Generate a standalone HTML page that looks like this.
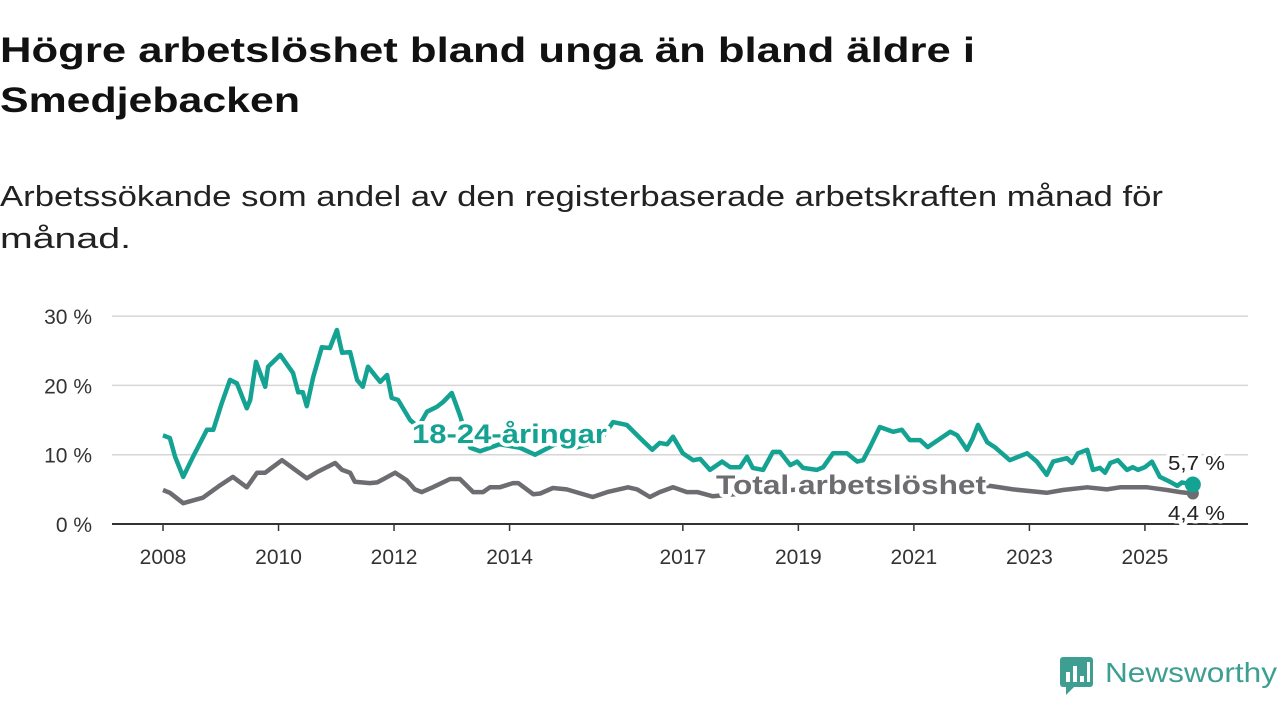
<!DOCTYPE html>
<html><head><meta charset="utf-8"><style>
html,body{margin:0;padding:0;background:#fff;width:1280px;height:720px;overflow:hidden}
svg text{font-family:"Liberation Sans",sans-serif}
</style></head><body>
<svg id="chart" width="1280" height="720" xmlns="http://www.w3.org/2000/svg">
<text x="0" y="62" font-size="35" font-weight="bold" fill="#111" textLength="975" lengthAdjust="spacingAndGlyphs">Högre arbetslöshet bland unga än bland äldre i</text>
<text x="0" y="112" font-size="35" font-weight="bold" fill="#111" textLength="300" lengthAdjust="spacingAndGlyphs">Smedjebacken</text>
<text x="0" y="206" font-size="29" fill="#222" textLength="1163" lengthAdjust="spacingAndGlyphs">Arbetssökande som andel av den registerbaserade arbetskraften månad för</text>
<text x="0" y="248" font-size="29" fill="#222" textLength="131" lengthAdjust="spacingAndGlyphs">månad.</text>
<g id="grid"></g><g id="axes"></g><g id="lines"></g><g id="labels"></g>
<g>
<rect x="1060" y="657" width="33" height="30" rx="3" fill="#3e9e92"/>
<polygon points="1066,687 1074,687 1066,695" fill="#3e9e92"/>
<rect x="1066" y="672" width="4" height="10" fill="#fff"/><rect x="1073" y="666" width="4" height="16" fill="#fff"/><rect x="1080" y="676" width="4" height="6" fill="#fff"/><rect x="1087" y="662" width="3" height="20" fill="#fff"/>
<text x="1105" y="682" font-size="28" fill="#3e9e92" textLength="172" lengthAdjust="spacingAndGlyphs">Newsworthy</text>
</g>
</svg>
<script>
const yTicks=[0,10,20,30];
const yTickLabels=["0 %","10 %","20 %","30 %"];
const xTicks=[2008,2010,2012,2014,2017,2019,2021,2023,2025];
const youthDates=[2008.0,2008.12,2008.21,2008.35,2008.52,2008.76,2008.87,2009.02,2009.16,2009.28,2009.45,2009.51,2009.61,2009.77,2009.82,2010.03,2010.25,2010.34,2010.42,2010.49,2010.6,2010.75,2010.89,2011.01,2011.1,2011.24,2011.36,2011.46,2011.55,2011.76,2011.88,2011.96,2012.07,2012.28,2012.42,2012.57,2012.74,2012.85,2013.0,2013.14,2013.32,2013.49,2013.83,2014.18,2014.44,2014.79,2015.13,2015.57,2015.79,2016.03,2016.26,2016.47,2016.6,2016.73,2016.83,2017.0,2017.18,2017.3,2017.47,2017.68,2017.82,2017.99,2018.11,2018.21,2018.39,2018.56,2018.68,2018.86,2018.98,2019.08,2019.32,2019.43,2019.6,2019.84,2020.02,2020.12,2020.24,2020.41,2020.64,2020.79,2020.93,2021.11,2021.24,2021.63,2021.75,2021.92,2022.02,2022.11,2022.27,2022.4,2022.66,2022.96,2023.13,2023.3,2023.41,2023.65,2023.74,2023.84,2024.0,2024.1,2024.22,2024.31,2024.4,2024.53,2024.69,2024.79,2024.88,2025.0,2025.12,2025.26,2025.43,2025.56,2025.64,2025.83];
const youthValues=[12.8,12.4,9.7,6.8,9.7,13.6,13.6,17.5,20.8,20.3,16.7,17.9,23.4,19.8,22.7,24.4,21.8,19.0,19.0,17.0,21.2,25.5,25.4,28.0,24.7,24.8,20.8,19.8,22.7,20.5,21.5,18.2,17.9,15.0,14.0,16.2,16.9,17.6,18.9,15.7,11.0,10.5,11.5,11.0,10.0,11.5,11.0,12.0,14.7,14.3,12.4,10.7,11.7,11.5,12.6,10.2,9.2,9.4,7.8,9.0,8.2,8.2,9.7,8.1,7.8,10.4,10.4,8.5,9.0,8.1,7.8,8.2,10.2,10.2,9.0,9.2,11.1,14.0,13.3,13.6,12.1,12.1,11.1,13.3,12.8,10.7,12.4,14.3,11.8,11.1,9.2,10.2,9.0,7.1,9.0,9.5,8.8,10.2,10.7,7.8,8.1,7.4,8.8,9.2,7.8,8.2,7.8,8.2,9.0,6.8,6.1,5.5,6.0,5.7];
const totalDates=[2008.0,2008.12,2008.35,2008.69,2008.99,2009.21,2009.45,2009.63,2009.77,2010.06,2010.49,2010.67,2010.98,2011.1,2011.24,2011.32,2011.58,2011.71,2012.02,2012.22,2012.36,2012.48,2012.67,2012.97,2013.14,2013.37,2013.54,2013.66,2013.83,2014.06,2014.15,2014.41,2014.53,2014.75,2014.99,2015.44,2015.69,2016.05,2016.21,2016.43,2016.6,2016.83,2017.07,2017.25,2017.52,2018.16,2019.03,2019.89,2020.76,2021.63,2022.32,2022.72,2023.3,2023.58,2024.0,2024.34,2024.57,2025.04,2025.38,2025.61,2025.83];
const totalValues=[4.9,4.5,3.0,3.8,5.6,6.8,5.3,7.4,7.4,9.2,6.6,7.5,8.8,7.8,7.4,6.1,5.9,6.0,7.4,6.3,5.0,4.6,5.3,6.5,6.5,4.6,4.6,5.3,5.3,5.9,5.9,4.3,4.4,5.2,5.0,3.9,4.6,5.3,5.0,3.9,4.6,5.3,4.6,4.6,4.0,4.5,5.0,5.3,5.5,5.0,5.5,5.0,4.5,4.9,5.3,5.0,5.3,5.3,4.9,4.6,4.4];
const NS="http://www.w3.org/2000/svg";
const X=d=>163+(d-2008)*57.76;
const Y=v=>524-v*6.93;
function mk(tag,attrs,parent){const e=document.createElementNS(NS,tag);for(const k in attrs)e.setAttribute(k,attrs[k]);parent.appendChild(e);return e;}
const grid=document.getElementById('grid'),axes=document.getElementById('axes'),lines=document.getElementById('lines'),labels=document.getElementById('labels');
yTicks.forEach((t,i)=>{
  if(t>0){const g=mk('line',{x1:112,x2:1248,y1:Y(t),y2:Y(t),stroke:'#d6d6d6','stroke-width':1.5},grid);
  
  }
  const tx=mk('text',{x:92,y:Y(t)+8,'text-anchor':'end','font-size':21,fill:'#333'},axes);tx.textContent=yTickLabels[i];
  
  
});
const base=mk('line',{x1:112,x2:1248,y1:524,y2:524,stroke:'#333','stroke-width':2},axes);


xTicks.forEach(t=>{
  const tk=mk('line',{x1:X(t),x2:X(t),y1:524,y2:531,stroke:'#333','stroke-width':1.5},axes);
  
  
  const tx=mk('text',{x:X(t),y:564,'text-anchor':'middle','font-size':21,fill:'#333'},axes);tx.textContent=t;
  
  
});
function path(ds,vs){return ds.map((d,i)=>(i?'L':'M')+X(d).toFixed(1)+','+Y(vs[i]).toFixed(1)).join('');}
const pt=mk('path',{d:path(totalDates,totalValues),fill:'none',stroke:'#6d6c71','stroke-width':4.5,'stroke-linejoin':'round'},lines);


const py=mk('path',{d:path(youthDates,youthValues),fill:'none',stroke:'#14a293','stroke-width':4.5,'stroke-linejoin':'round'},lines);


const lt=totalDates.length-1,ly=youthDates.length-1;
const dt=mk('circle',{cx:X(totalDates[lt]),cy:Y(totalValues[lt]),r:6,fill:'#6d6c71'},lines);


const dy=mk('circle',{cx:X(youthDates[ly]),cy:Y(youthValues[ly]),r:8,fill:'#14a293'},lines);


function lab(txt,x,y,size,fill,bold,len,name){
  const t=mk('text',{x:x,y:y,'font-size':size,fill:fill,'font-weight':bold?'bold':'normal',stroke:'#fff','stroke-width':7,'paint-order':'stroke','stroke-linejoin':'round',textLength:len,lengthAdjust:'spacingAndGlyphs'},labels);
  t.textContent=txt;
  
  
}
lab('18-24-åringar',412,443,27,'#14a293',true,195,'youth-series-label');
lab('Total arbetslöshet',716,494,27,'#6d6c71',true,270,'total-series-label');
lab('5,7 %',1168,470,20,'#222',false,57,'youth-end-value');
lab('4,4 %',1168,520,20,'#222',false,57,'total-end-value');
</script>
</body></html>
